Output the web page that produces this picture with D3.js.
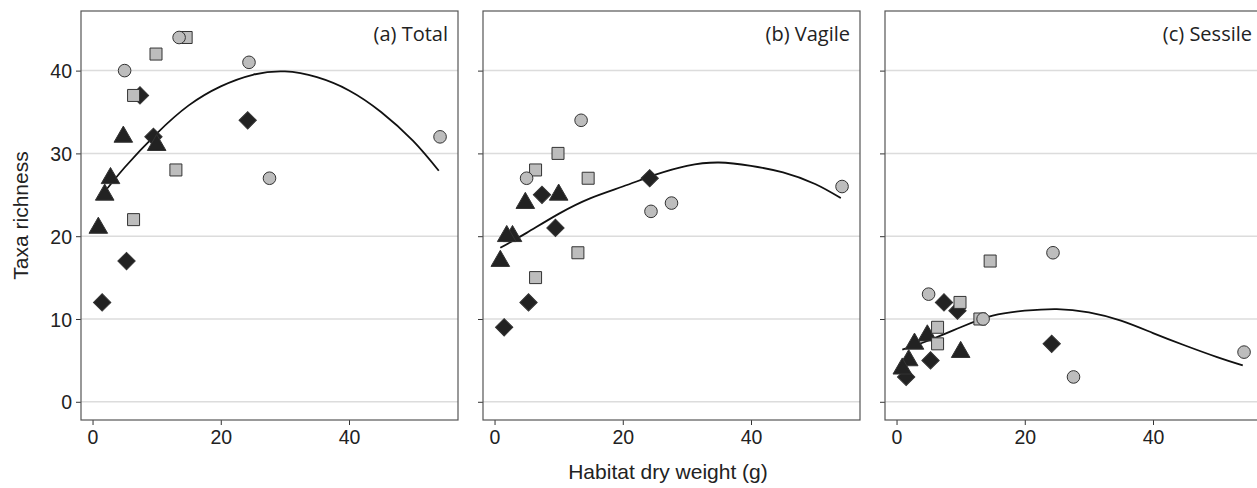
<!DOCTYPE html>
<html>
<head>
<meta charset="utf-8">
<script src="https://cdn.jsdelivr.net/npm/d3@7"></script>
<style>
    body { margin: 0; background: #ffffff; }
    svg { display: block; }
    .tickLabel { font-family: "Liberation Sans", Arial, sans-serif; font-size: 19.5px; fill: #222222; }
    .axesLabel { font-family: "Liberation Sans", Arial, sans-serif; font-size: 21px; fill: #222222; }
    .panelLabel { font-family: "Open Sans", "Noto Sans", sans-serif; font-size: 20px; fill: #222222; }
</style>
</head>
<body>
<svg id="chart"></svg>
<script>
/* Habitat dry weight (g) of each sample, grouped by marker */
const circleWeight = [13.5, 5.0, 24.4, 54.2, 27.6];
const circleTotal = [44, 40, 41, 32, 27];
const circleVagile = [34, 27, 23, 26, 24];
const circleSessile = [10, 13, 18, 6, 3];

const squareWeight = [14.6, 9.9, 6.4, 13.0, 6.4];
const squareTotal = [44, 42, 37, 28, 22];
const squareVagile = [27, 30, 28, 18, 15];
const squareSessile = [17, 12, 9, 10, 7];

const diamondWeight = [7.4, 24.2, 9.5, 5.3, 1.5];
const diamondTotal = [37, 34, 32, 17, 12];
const diamondVagile = [25, 27, 21, 12, 9];
const diamondSessile = [12, 7, 11, 5, 3];

const triangleWeight = [4.8, 10.0, 2.8, 1.9, 0.9];
const triangleTotal = [32, 31, 27, 25, 21];
const triangleVagile = [24, 25, 20, 20, 17];
const triangleSessile = [8, 6, 7, 5, 4];

/* fitted curves */
const fitWeight = [0.9, 5, 10, 15, 20, 25, 30, 35, 40, 45, 50, 54];
const fitTotal = [24.4, 28.3, 32.4, 35.8, 38.1, 39.5, 39.9, 39.2, 37.6, 35.0, 31.5, 27.9];
const fitVagile = [18.6, 20.4, 22.7, 24.6, 26.0, 27.4, 28.5, 28.9, 28.5, 27.7, 26.3, 24.6];
const fitSessile = [6.3, 7.4, 9.0, 10.4, 11.0, 11.2, 10.8, 9.8, 8.3, 6.8, 5.4, 4.4];

const panelTitles = ["(a) Total", "(b) Vagile", "(c) Sessile"];
const xTicks = [0, 20, 40];
const yTicks = [0, 10, 20, 30, 40];

let svgWidth = 1257;
let svgHeight = 488;

let svg = d3.select("svg#chart")
    .attr("width", svgWidth)
    .attr("height", svgHeight);

let padding = { top: 11, left: 81, panelStep: 402 };
let panelWidth = 377;
let panelHeight = 409;

let xScale = d3.scaleLinear().domain([-1.8, 57]).range([0, panelWidth]);
let yScale = d3.scaleLinear().domain([-2.2, 47.2]).range([panelHeight, 0]);

let symbolSize = { circle: 125, square: 144, diamond: 150, triangle: 150 };

let panels = [
    { title: panelTitles[0], fit: fitTotal, circle: circleTotal, square: squareTotal, diamond: diamondTotal, triangle: triangleTotal },
    { title: panelTitles[1], fit: fitVagile, circle: circleVagile, square: squareVagile, diamond: diamondVagile, triangle: triangleVagile },
    { title: panelTitles[2], fit: fitSessile, circle: circleSessile, square: squareSessile, diamond: diamondSessile, triangle: triangleSessile }
];

panels.forEach((panel, index) => {
    let g = svg.append("g")
        .attr("transform", "translate(" + (padding.left + index * padding.panelStep) + "," + padding.top + ")");

    /* gridlines */
    g.selectAll("line.grid")
        .data(yTicks)
        .enter().append("line")
        .attr("class", "grid")
        .attr("x1", 0).attr("x2", panelWidth)
        .attr("y1", d => yScale(d)).attr("y2", d => yScale(d))
        .attr("stroke", "#dcdcdc")
        .attr("stroke-width", 1.5);

    /* axes */
    let yAxis = d3.axisLeft(yScale).tickValues(yTicks).tickSize(5).tickPadding(4);
    let xAxis = d3.axisBottom(xScale).tickValues(xTicks).tickSize(5).tickPadding(5);

    let yAxisG = g.append("g").call(yAxis);
    let xAxisG = g.append("g").attr("transform", "translate(0," + panelHeight + ")").call(xAxis);

    yAxisG.selectAll("path.domain").remove();
    xAxisG.selectAll("path.domain").remove();
    yAxisG.selectAll(".tick line").attr("stroke", "#333333");
    xAxisG.selectAll(".tick line").attr("stroke", "#333333");
    yAxisG.selectAll(".tick text").attr("class", "tickLabel").attr("dy", "0.36em");
    xAxisG.selectAll(".tick text").attr("class", "tickLabel");
    if (index > 0) yAxisG.selectAll(".tick text").remove();

    /* panel border */
    g.append("rect")
        .attr("x", 0).attr("y", 0)
        .attr("width", panelWidth).attr("height", panelHeight)
        .attr("fill", "none")
        .attr("stroke", "#555555")
        .attr("stroke-width", 1.2);

    /* fitted curve */
    let line = d3.line()
        .x(d => xScale(d[0]))
        .y(d => yScale(d[1]))
        .curve(d3.curveNatural);
    g.append("path")
        .datum(fitWeight.map((w, i) => [w, panel.fit[i]]))
        .attr("d", line)
        .attr("fill", "none")
        .attr("stroke", "#111111")
        .attr("stroke-width", 1.8);

    /* points, drawn in this order so overlaps look like the original */
    let groups = [
        { key: "diamond", weight: diamondWeight, symbol: d3.symbolSquare, rotate: 45, fill: "#222222" },
        { key: "triangle", weight: triangleWeight, symbol: d3.symbolTriangle, rotate: 0, fill: "#222222" },
        { key: "square", weight: squareWeight, symbol: d3.symbolSquare, rotate: 0, fill: "#bdbdbd" },
        { key: "circle", weight: circleWeight, symbol: d3.symbolCircle, rotate: 0, fill: "#bdbdbd" }
    ];

    groups.forEach(group => {
        let values = panel[group.key];
        g.selectAll("path." + group.key)
            .data(group.weight.map((w, i) => [w, values[i]]))
            .enter().append("path")
            .attr("class", group.key)
            .attr("d", d3.symbol().type(group.symbol).size(symbolSize[group.key]))
            .attr("transform", d => "translate(" + xScale(d[0]) + "," + yScale(d[1]) + ") rotate(" + group.rotate + ")")
            .attr("fill", group.fill)
            .attr("stroke", "#333333")
            .attr("stroke-width", 1);
    });

    /* panel title */
    g.append("text")
        .attr("class", "panelLabel")
        .attr("x", panelWidth - 10)
        .attr("y", 30)
        .style("text-anchor", "end")
        .text(panel.title);
});

/* Add axes labels */
svg.append("text")
    .attr("class", "axesLabel")
    .attr("transform", "translate(668,479)")
    .style("text-anchor", "middle")
    .text("Habitat dry weight (g)");

svg.append("text")
    .attr("class", "axesLabel")
    .attr("transform", "translate(28," + (padding.top + panelHeight / 2) + ") rotate(270)")
    .style("text-anchor", "middle")
    .text("Taxa richness");
</script>
</body>
</html>
